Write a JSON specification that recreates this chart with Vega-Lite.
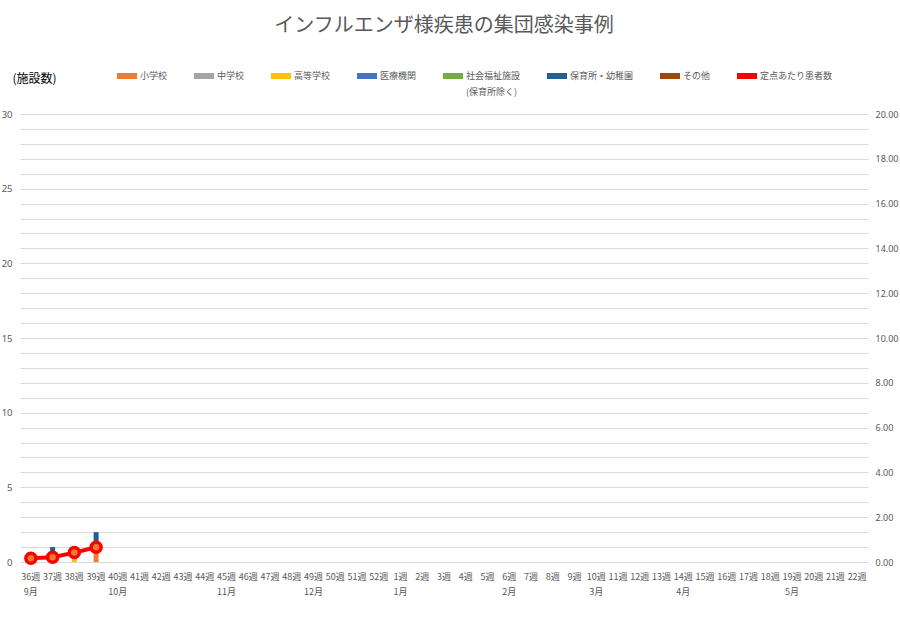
{
  "$schema": "https://vega.github.io/schema/vega-lite/v6.json",
  "width": 848,
  "height": 448,
  "autosize": "none",
  "padding": {"left": 20, "top": 114, "right": 32, "bottom": 55},
  "background": "white",
  "config": {
    "font": "Noto Sans CJK JP",
    "view": {"stroke": null},
    "axis": {"labelFont": "Noto Sans CJK JP", "labelFontSize": 9, "labelColor": "#595959", "ticks": false, "domain": false, "gridColor": "#d9d9d9", "gridWidth": 1}
  },
  "title": {
    "text": "インフルエンザ様疾患の集団感染事例",
    "fontSize": 20,
    "fontWeight": "normal",
    "color": "#595959",
    "font": "Noto Sans CJK JP",
    "anchor": "middle",
    "frame": "group",
    "offset": 30
  },
  "layer": [
    {
      "data": {
        "values": [
          {"週": "37週", "種別": "保育所・幼稚園", "順": 6, "施設数": 1},
          {"週": "38週", "種別": "高等学校", "順": 3, "施設数": 1},
          {"週": "39週", "種別": "小学校", "順": 1, "施設数": 1},
          {"週": "39週", "種別": "保育所・幼稚園", "順": 6, "施設数": 1}
        ]
      },
      "mark": {"type": "bar", "size": 5},
      "encoding": {
        "x": {
          "field": "週", "type": "ordinal", "sort": null,
          "scale": {"domain": ["36週","37週","38週","39週","40週","41週","42週","43週","44週","45週","46週","47週","48週","49週","50週","51週","52週","1週","2週","3週","4週","5週","6週","7週","8週","9週","10週","11週","12週","13週","14週","15週","16週","17週","18週","19週","20週","21週","22週"]},
          "axis": {
            "title": null, "labelAngle": 0, "labelPadding": 10, "labelLineHeight": 15,
            "labelBaseline": "top",
            "labelExpr": "[datum.value, datum.value == '36週' ? '9月' : datum.value == '40週' ? '10月' : datum.value == '45週' ? '11月' : datum.value == '49週' ? '12月' : datum.value == '1週' ? '1月' : datum.value == '6週' ? '2月' : datum.value == '10週' ? '3月' : datum.value == '14週' ? '4月' : datum.value == '19週' ? '5月' : '']"
          }
        },
        "y": {
          "field": "施設数", "type": "quantitative", "stack": "zero",
          "scale": {"domain": [0, 30], "nice": false},
          "axis": {
            "values": [0,1,2,3,4,5,6,7,8,9,10,11,12,13,14,15,16,17,18,19,20,21,22,23,24,25,26,27,28,29,30],
            "labelExpr": "datum.value % 5 == 0 ? datum.label : ''",
            "labelPadding": 8, "labelFont": "Noto Sans", "labelFontSize": 9.5,
            "title": "(施設数)", "titleAngle": 0, "titleAlign": "left", "titleBaseline": "middle",
            "titleX": -8, "titleY": -36, "titleFontSize": 12, "titleFontWeight": "normal", "titleColor": "#000000"
          }
        },
        "color": {
          "field": "種別", "type": "nominal",
          "scale": {
            "domain": ["小学校","中学校","高等学校","医療機関","社会福祉施設","保育所・幼稚園","その他","定点あたり患者数"],
            "range": ["#ed7d31","#a5a5a5","#ffc000","#4472c4","#70ad47","#255e91","#9e480e","#ff0000"]
          },
          "legend": {
            "title": null, "orient": "none", "direction": "horizontal",
            "legendX": 97, "legendY": -48,
            "symbolType": "M-1,-0.3H1V0.3H-1Z", "symbolSize": 400, "symbolStrokeWidth": 0,
            "labelFontSize": 9, "labelColor": "#595959", "labelOffset": 3, "columnPadding": 26,
            "labelLimit": 200, "labelBaseline": "middle",
            "labelExpr": "datum.label == '社会福祉施設' ? ['社会福祉施設', '(保育所除く)'] : [datum.label, '']",
            "encode": {"labels": {"update": {"lineHeight": {"value": 16}}}}
          }
        },
        "order": {"field": "順", "type": "quantitative"}
      }
    },
    {
      "data": {
        "values": [
          {"週": "36週", "定点あたり患者数": 0.17},
          {"週": "37週", "定点あたり患者数": 0.21},
          {"週": "38週", "定点あたり患者数": 0.42},
          {"週": "39週", "定点あたり患者数": 0.66}
        ]
      },
      "layer": [
        {
          "mark": {"type": "line", "strokeWidth": 4},
          "encoding": {
            "x": {"field": "週", "type": "ordinal", "sort": null},
            "y": {
              "field": "定点あたり患者数", "type": "quantitative",
              "scale": {"domain": [0, 20], "nice": false},
              "axis": {"orient": "right", "values": [0,2,4,6,8,10,12,14,16,18,20], "format": ".2f", "grid": false, "title": null, "labelPadding": 7, "labelFont": "Noto Sans", "labelFontSize": 9}
            },
            "color": {"datum": "定点あたり患者数"}
          }
        },
        {
          "mark": {"type": "point", "filled": true, "fill": "#ee7b30", "stroke": "#ff0000", "strokeWidth": 3.5, "size": 100, "opacity": 1},
          "encoding": {
            "x": {"field": "週", "type": "ordinal", "sort": null},
            "y": {"field": "定点あたり患者数", "type": "quantitative"}
          }
        }
      ]
    }
  ],
  "resolve": {"scale": {"y": "independent"}}
}
